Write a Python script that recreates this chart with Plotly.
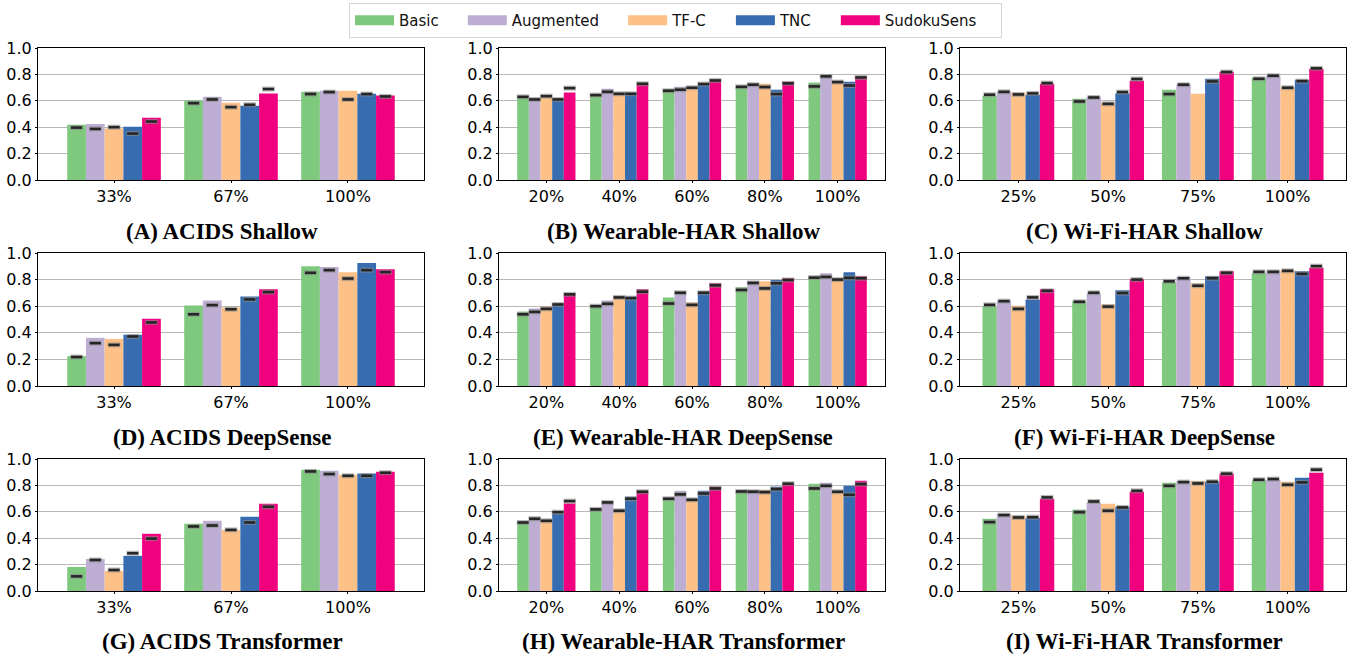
import numpy as np
import plotly.graph_objects as go

W, H = 1351, 654

methods = ["Basic", "Augmented", "TF-C", "TNC", "SudokuSens"]
colors = ["#7fc97f", "#beaed4", "#fdc086", "#386cb0", "#f0027f"]

acids_labels = ["33%", "67%", "100%"]
wear_labels = ["20%", "40%", "60%", "80%", "100%"]
wifi_labels = ["25%", "50%", "75%", "100%"]

# ---- bar heights (rows = methods in order above) ----
A_bar = [[0.418, 0.603, 0.668], [0.425, 0.630, 0.676], [0.390, 0.585, 0.676],
         [0.403, 0.562, 0.653], [0.471, 0.656, 0.641]]
A_dash = [[0.397, 0.582, 0.651], [0.387, 0.610, 0.666], [0.400, 0.552, 0.610],
          [0.352, 0.570, 0.651], [0.443, 0.689, 0.633]]

B_bar = [[0.630, 0.651, 0.689, 0.711, 0.739], [0.620, 0.691, 0.706, 0.722, 0.772],
         [0.625, 0.656, 0.704, 0.729, 0.734], [0.603, 0.661, 0.722, 0.684, 0.744],
         [0.663, 0.729, 0.752, 0.744, 0.782]]
B_dash = [[0.630, 0.643, 0.676, 0.706, 0.709], [0.610, 0.668, 0.684, 0.722, 0.785],
          [0.635, 0.653, 0.699, 0.704, 0.742], [0.610, 0.653, 0.727, 0.651, 0.716],
          [0.696, 0.729, 0.754, 0.732, 0.777]]

C_bar = [[0.638, 0.615, 0.684, 0.775], [0.668, 0.630, 0.729, 0.792],
         [0.661, 0.587, 0.653, 0.704], [0.646, 0.658, 0.767, 0.759],
         [0.729, 0.752, 0.820, 0.843]]
C_dash = [[0.646, 0.595, 0.651, 0.767], [0.668, 0.625, 0.722, 0.790],
          [0.648, 0.577, None, 0.699], [0.656, 0.666, 0.747, 0.749],
          [0.734, 0.765, 0.818, 0.846]]

D_bar = [[0.225, 0.605, 0.901], [0.362, 0.643, 0.894], [0.354, 0.590, 0.856],
         [0.385, 0.673, 0.924], [0.506, 0.727, 0.878]]
D_dash = [[0.218, 0.539, 0.851], [0.322, 0.608, 0.871], [0.309, 0.577, 0.808],
          [0.372, 0.651, 0.871], [0.478, 0.706, 0.856]]

E_bar = [[0.559, 0.605, 0.666, 0.742, 0.820], [0.582, 0.643, 0.689, 0.787, 0.848],
         [0.595, 0.668, 0.628, 0.787, 0.808], [0.613, 0.671, 0.711, 0.797, 0.856],
         [0.696, 0.727, 0.772, 0.810, 0.825]]
E_dash = [[0.539, 0.600, 0.620, 0.722, 0.815], [0.557, 0.618, 0.701, 0.775, 0.820],
          [0.580, 0.666, 0.610, 0.734, 0.800], [0.613, 0.661, 0.701, 0.772, 0.813],
          [0.689, 0.709, 0.757, 0.797, 0.810]]

F_bar = [[0.600, 0.641, 0.780, 0.848], [0.641, 0.696, 0.818, 0.871],
         [0.603, 0.613, 0.770, 0.873], [0.651, 0.719, 0.825, 0.863],
         [0.727, 0.803, 0.863, 0.889]]
F_dash = [[0.610, 0.633, 0.787, 0.858], [0.638, 0.701, 0.810, 0.858],
          [0.580, 0.597, 0.754, 0.866], [0.666, 0.699, 0.810, 0.843],
          [0.716, 0.800, 0.851, 0.901]]

G_bar = [[0.182, 0.509, 0.919], [0.243, 0.532, 0.911], [0.152, 0.463, 0.881],
         [0.266, 0.562, 0.891], [0.433, 0.661, 0.904]]
G_dash = [[0.111, 0.489, 0.906], [0.235, 0.496, 0.886], [0.159, 0.463, 0.873],
          [0.286, 0.519, 0.873], [0.397, 0.638, 0.896]]

H_bar = [[0.516, 0.630, 0.704, 0.759, 0.813], [0.562, 0.671, 0.759, 0.765, 0.820],
         [0.539, 0.610, 0.686, 0.765, 0.744], [0.587, 0.714, 0.759, 0.790, 0.797],
         [0.663, 0.759, 0.790, 0.813, 0.835]]
H_dash = [[0.519, 0.618, 0.699, 0.754, 0.777], [0.547, 0.671, 0.732, 0.752, 0.797],
          [0.532, 0.608, 0.691, 0.749, 0.752], [0.597, 0.699, 0.739, 0.772, 0.729],
          [0.681, 0.752, 0.777, 0.813, 0.810]]

I_bar = [[0.547, 0.615, 0.820, 0.838], [0.585, 0.671, 0.833, 0.843],
         [0.570, 0.661, 0.833, 0.828], [0.554, 0.638, 0.828, 0.858],
         [0.699, 0.752, 0.891, 0.896]]
I_dash = [[0.522, 0.597, 0.797, 0.843], [0.575, 0.678, 0.825, 0.848],
          [0.557, 0.608, 0.815, 0.805], [0.559, 0.633, 0.828, 0.823],
          [0.709, 0.759, 0.889, 0.919]]

titles = ["(A) ACIDS Shallow", "(B) Wearable-HAR Shallow", "(C) Wi-Fi-HAR Shallow",
          "(D) ACIDS DeepSense", "(E) Wearable-HAR DeepSense", "(F) Wi-Fi-HAR DeepSense",
          "(G) ACIDS Transformer", "(H) Wearable-HAR Transformer", "(I) Wi-Fi-HAR Transformer"]

panels = [(acids_labels, A_bar, A_dash), (wear_labels, B_bar, B_dash), (wifi_labels, C_bar, C_dash),
          (acids_labels, D_bar, D_dash), (wear_labels, E_bar, E_dash), (wifi_labels, F_bar, F_dash),
          (acids_labels, G_bar, G_dash), (wear_labels, H_bar, H_dash), (wifi_labels, I_bar, I_dash)]

# ---- layout geometry (pixels) ----
col_px = [(38, 424), (499, 885), (960, 1346)]
row_px = [(48, 180), (253, 386), (459, 591)]
title_y_px = [231, 437, 641]

BAR_W = 0.16
offsets = (np.arange(5) - 2) * BAR_W

fig = go.Figure()
layout = {}
annotations = []
tickfont = dict(family="DejaVu Sans", size=16, color="#000000")

for p, (labels, bars, dashes) in enumerate(panels):
    r, c = divmod(p, 3)
    suffix = "" if p == 0 else str(p + 1)
    xa, ya = "x" + suffix, "y" + suffix
    n = len(labels)
    idx = np.arange(n)
    for k in range(5):
        fig.add_trace(go.Bar(x=idx + offsets[k], y=bars[k], width=BAR_W,
                             marker=dict(color=colors[k], line=dict(width=0)),
                             name=methods[k], showlegend=False, xaxis=xa, yaxis=ya))
    for k in range(5):
        dy = [np.nan if v is None else v for v in dashes[k]]
        fig.add_trace(go.Scatter(x=idx + offsets[k], y=dy, mode="markers",
                                 marker=dict(symbol="line-ew", size=9,
                                             line=dict(color="rgba(140,140,140,0.6)", width=5)),
                                 showlegend=False, hoverinfo="skip", xaxis=xa, yaxis=ya))
        fig.add_trace(go.Scatter(x=idx + offsets[k], y=dy, mode="markers",
                                 marker=dict(symbol="line-ew", size=8,
                                             line=dict(color="#262626", width=2.6)),
                                 showlegend=False, hoverinfo="skip", xaxis=xa, yaxis=ya))
    x0, x1 = col_px[c]
    y0, y1 = row_px[r]
    layout["xaxis" + suffix] = dict(
        domain=[x0 / W, x1 / W], anchor=ya, range=[-0.65, n - 0.35], automargin=False,
        tickmode="array", tickvals=list(idx), ticktext=labels,
        showgrid=False, zeroline=False, showline=True, linecolor="#000000", linewidth=1,
        mirror=True, ticks="outside", ticklen=2, tickcolor="#000000", tickfont=tickfont)
    layout["yaxis" + suffix] = dict(
        domain=[1 - y1 / H, 1 - y0 / H], anchor=xa, range=[0, 1.0], automargin=False,
        tickmode="array", tickvals=[0, 0.2, 0.4, 0.6, 0.8, 1.0],
        ticktext=["0.0", "0.2", "0.4", "0.6", "0.8", "1.0"],
        showgrid=True, gridcolor="#b8b8b8", gridwidth=1, zeroline=False,
        showline=True, linecolor="#000000", linewidth=1, mirror=True,
        ticks="outside", ticklen=2, tickcolor="#000000", tickfont=tickfont)
    annotations.append(dict(
        text="<b>" + titles[p] + "</b>", xref="paper", yref="paper",
        x=((x0 + x1) / 2 - 9) / W, y=1 - title_y_px[r] / H, xanchor="center", yanchor="middle",
        showarrow=False, font=dict(family="Liberation Serif", size=23, color="#000000")))

# legend entries (wide patches)
NB = "\u00a0"
for k in range(5):
    fig.add_trace(go.Scatter(x=[None], y=[None], mode="lines", name=methods[k] + NB * 4,
                             line=dict(color=colors[k], width=12), showlegend=True))

fig.update_layout(
    width=W, height=H, margin=dict(l=0, r=0, t=0, b=0, autoexpand=False),
    paper_bgcolor="white", plot_bgcolor="white",
    barmode="overlay", annotations=annotations,
    legend=dict(orientation="h", x=0.5, xanchor="center", y=1 - 3 / H, yanchor="top",
                bgcolor="white", bordercolor="#d5d5d5", borderwidth=1,
                font=dict(family="DejaVu Sans", size=15, color="#111111"),
                itemwidth=39, tracegroupgap=0),
    **layout)

fig.write_html("out.html", config={"displayModeBar": False},
               post_script="document.body.style.margin='0';document.body.style.padding='0';")
